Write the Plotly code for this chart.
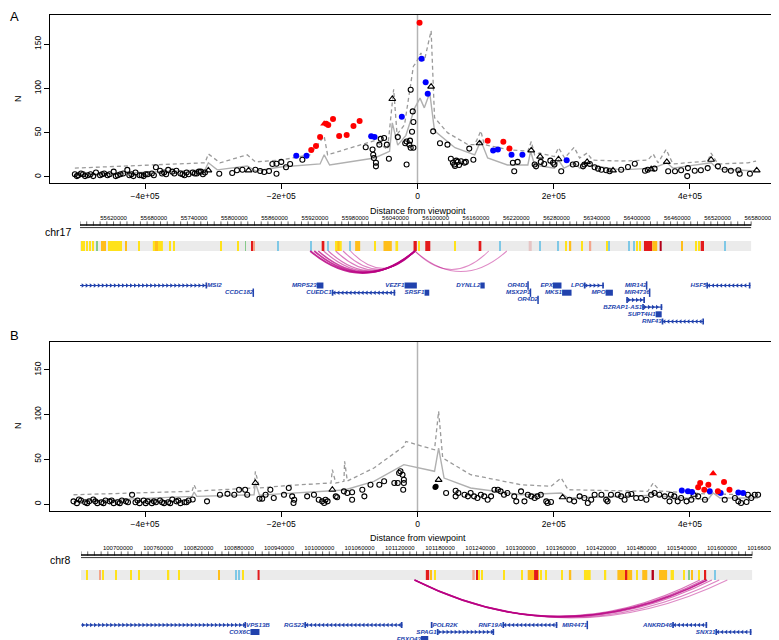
import numpy as np
import plotly.graph_objects as go

W, H = 779, 640
FONT = "Liberation Sans, Arial, sans-serif"
GENE_BLUE = "#2142ad"

# ---------------- panel A : chr17 ----------------
# distance from viewpoint in kb, N
a_circ_x = [-503, -498, -494, -488, -480, -472, -466, -460, -452, -446, -440, -432, -426, -420, -414, -408,
            -402, -396, -390, -384, -378, -372, -366, -360, -354, -348, -342, -336, -330, -324, -318, -312,
            -500, -491, -484, -476, -463, -455, -443, -436, -423, -417, -405, -399, -387, -375, -369, -357,
            -345, -339, -327, -321, -315,
            -291, -272, -265, -257, -238, -231, -225, -218, -213, -207, -200, -207, -193, -187, -169,
            -76, -66, -65, -64, -61, -61, -56, -54, -49, -45, -42, -29, -18, -16, -12, -10, -6, -11, -16,
            -10, -7, -6, -8,
            23, 33, 44, 49, 52, 54, 57, 59, 64, 69, 71, 76, 82, 55, 61,
            140, 142, 147, 172, 174, 181, 186, 195, 199, 201, 211, 228, 233,
            243, 245, 253, 260, 265, 270, 277, 282, 299, 309, 319, 334, 338, 348,
            368, 378, 387, 397, 396, 407, 416, 426, 441, 451, 460, 471, 473, 488]
a_circ_y = [3, 2, 4, 1, 3, 5, 2, 4, 3, 6, 2, 4, 8, 3, 5, 2,
            1, 3, 4, 11, 7, 5, 8, 6, 7, 4, 2, 3, 5, 4, 6, 5,
            1, 3, 2, 1, 3, 2, 1, 3, 2, 1, 2, 3, 2, 4, 3, 4,
            3, 5, 4, 6, 3,
            3.7, 4.5, 7.6, 8.2, 8.2, 6.8, 5.6, 6.8, 14.7, 15, 17, 3.7, 11, 14.7, 19.5,
            33.5, 31, 25, 21.4, 16, 12, 36.5, 43, 44, 36.5, 20.6, 45, 38, 40, 36.5, 33, 33, 41, 14,
            98.5, 74, 62, 51,
            51.5, 38, 36.5, 20.6, 16, 14, 18.4, 17, 17.7, 16, 17, 32, 19.5, 12.4, 13.5,
            16, 6.4, 17, 14, 12, 17, 14.7, 18.4, 16, 14, 6.4, 14, 14.7,
            12, 14, 14.7, 11, 9.4, 8.2, 7.6, 6.4, 8.2, 11.3, 15, 7, 8.2, 9.4,
            6.4, 6.4, 7.6, 10, 1, 7, 7.6, 10, 12, 8.2, 7, 7.6, 3.7, 3.7]
a_tri_x = [-307, -248, -37, 20, 91, 167, 180, 207, 249, 287, 343, 366, 431, 498]
a_tri_y = [7.5, 7.5, 88, 102, 38, 30, 23, 20, 17, 7.5, 8.7, 17, 19.5, 7.5]
a_red_x = [-156, -149, -143, -134, -131, -124, -115, -104, -94, -85, 3, 103, 126, 135]
a_red_y = [30.5, 35, 45, 60, 58.7, 65.5, 46.3, 47.4, 57.6, 63.2, 174, 41, 39.8, 32]
a_redtri_x = [-137]
a_redtri_y = [60]
a_blue_x = [-178, -163, -68, -63, -23, 6, 12, 15, 111, 118, 138, 154, 219]
a_blue_y = [24, 24, 46, 45, 68, 133.5, 107, 94, 30, 31, 25, 25, 19]
a_solid_x = [-503, -312, -307, -294, -250, -238, -201, -143, -137, -129, -63, -41, -37, -29, -17, -11, -4, 3.7,
             10, 18, 25, 55, 84, 93, 103, 132, 162, 166, 172, 201, 207, 215, 231, 238, 250, 299, 346, 366,
             375, 431, 441, 497]
a_solid_y = [2.3, 8, 16, 8, 12.4, 6.8, 11.3, 14.7, 25, 13.5, 21.4, 29, 61, 36, 47, 61, 78, 89,
             78, 95, 52, 33, 25, 41, 21.4, 13.5, 13.5, 29, 13.5, 10, 19, 10, 16, 10, 13.5, 8, 10, 16,
             10, 16, 9, 6.8]
a_dash_x = [-503, -312, -307, -290, -250, -238, -201, -158, -137, -132, -63, -44, -35, -30, -19, -6, -2, 5,
            10, 20, 25, 44, 74, 84, 93, 98, 132, 162, 167, 172, 179, 201, 207, 216, 230, 238, 249, 257,
            299, 338, 346, 353, 365, 375, 426, 431, 441, 485, 497]
a_dash_y = [10, 16, 26, 16, 25, 17, 19, 25, 46, 25, 41, 31, 99, 48, 59, 125, 129, 140,
            131, 165, 67, 50, 36.5, 36.5, 52, 36.5, 31, 29, 40, 25, 27, 23, 33, 21.4, 33.5, 21.4, 27, 19,
            18, 19, 26, 16, 31, 14.7, 18, 27, 14.7, 16, 18]

a_window = [55570000, 56570000]
a_viewpoint = 56069000
a_ruler_labels = [55620000, 55680000, 55740000, 55800000, 55860000, 55920000, 55980000, 56040000, 56100000,
                  56160000, 56220000, 56280000, 56340000, 56400000, 56460000, 56520000, 56580000]

Y, O, R, LB, G, S, DR, P = "#ffe21a", "#ffbe1a", "#e31a1c", "#7fc8e6", "#86c98a", "#f4a58a", "#b2001a", "#e6c4c4"
a_stripe_pos = [55573000, 55576700, 55580400, 55584900, 55589400, 55595800, 55605000, 55612500, 55615500,
                55618500, 55621500, 55624500, 55627500, 55631200, 55638700, 55658100, 55686000, 55684000,
                55703900, 55709900, 55780000, 55805800, 55816700, 55825700, 55829700, 55864500, 55914300,
                55932100, 55939100, 55955000, 55955100, 55972500, 55983700, 56009800, 56028400, 56042000,
                56069400, 56075500, 56088200, 56129200, 56166000, 56195300, 56240800, 56256100, 56282400,
                56293400, 56300900, 56317300, 56330700, 56355500, 56358000, 56387900, 56395300, 56400300,
                56403800, 56416500, 56426400, 56435200, 56466500, 56487400, 56492400, 56497300, 56531200]
a_stripe_w = [1500, 1500, 1500, 1500, 1500, 1200, 7500, 1500, 1500,
              1500, 1500, 1500, 1500, 1500, 1500, 1500, 15000, 4500,
              1500, 1500, 1500, 1500, 1000, 1500, 1500, 1500, 1500,
              4000, 1500, 10000, 3000, 1500, 7500, 1500, 12400, 4000,
              4900, 1500, 7500, 1500, 4000, 1500, 4500, 1500, 1500,
              1500, 2000, 1500, 2000, 1500, 1000, 1500, 1500, 1500,
              1500, 12400, 7400, 3000, 2000, 1500, 1500, 5000, 1500]
a_stripe_col = [Y, Y, Y, Y, Y, G, O, Y, Y,
                Y, Y, Y, Y, Y, O, Y, Y, O,
                Y, Y, Y, Y, G, R, S, LB, LB,
                R, LB, Y, O, LB, O, Y, O, Y,
                R, Y, R, Y, R, LB, P, LB, LB,
                Y, O, Y, S, Y, LB, LB, LB, Y,
                Y, R, O, DR, O, Y, Y, R, LB]
a_arc_end = [55913000, 55919000, 55925000, 55933000, 55940000, 55951000, 55962000, 55973000, 56179000, 56206000]
a_arc_score = [1.0, 0.9, 0.8, 0.5, 0.5, 0.45, 0.4, 0.4, 0.35, 0.35]

a_gene_name = ["MSI2", "CCDC182", "MRPS23", "CUEDC1", "VEZF1", "SRSF1", "DYNLL2", "OR4D1", "MSX2P1", "OR4D2",
               "EPX", "MKS1", "LPO", "MPO", "MIR142", "MIR4736", "", "BZRAP1-AS1", "SUPT4H1", "RNF43", "HSF5"]
a_gene_start = [55540000, 55828200, 55922700, 55945100, 56053600, 56083400, 56166600, 56237600, 56241200,
                56252500, 56274500, 56288300, 56320700, 56353100, 56414300, 56418800, 56383900, 56407700,
                56427700, 56436700, 56503300]
a_gene_end = [55759500, 55828200, 55932700, 56039700, 56071900, 56090400, 56173000, 56237600, 56241200,
              56252500, 56287400, 56302400, 56350600, 56364000, 56414300, 56418800, 56411800, 56437600,
              56436700, 56499800, 56569000]
a_gene_strand = ["+", "+", "-", "-", "-", "-", "+", "+", "+", "+", "+", "-", "+", "-", "+", "+", "+", "+",
                 "-", "-", "-"]
a_gene_row = [1, 2, 1, 2, 1, 2, 1, 1, 2, 3, 1, 2, 1, 2, 1, 2, 3, 4, 5, 6, 1]
a_gene_side = ["R"] + ["L"] * 20

# ---------------- panel B : chr8 ----------------
b_circ_x = [-505, -500, -494, -488, -482, -476, -470, -464, -458, -452, -446, -440, -434, -428, -419, -414,
            -408, -402, -396, -390, -384, -378, -372, -366, -360, -354, -348, -342, -336, -330,
            -497, -485, -473, -461, -449, -437, -425, -411, -399, -387, -375, -363, -351, -339,
            -309, -290, -279, -269, -262, -253, -250, -232, -228, -223, -216, -211, -196, -189, -184, -182,
            -181, -162, -152, -145, -140, -137, -135, -132, -118, -103, -96, -96, -81, -78, -69, -56, -49,
            -34, -29, -27, -22, -20, -20, -21, -25, -120, -108,
            42, 56, 56, 60, 69, 74, 78, 83, 88, 93, 98, 103, 108, 113, 118, 122, 127, 132, 142, 145,
            152, 157, 162, 167, 172, 176, 181, 189, 191, 196, 223, 230, 238, 245, 250, 255, 260, 270, 277,
            279, 284, 294, 299, 304, 309, 314, 321, 328, 336, 343, 348, 355, 363, 370, 372, 377, 382, 387,
            395, 402, 412, 422, 451, 466, 471, 475, 483, 485, 490, 495, 500]
b_circ_y = [3, 1, 4, 2, 3, 5, 1, 2, 4, 3, 1, 2, 4, 3, 10.4, 2,
            1, 4, 3, 1, 2, 4, 1, 2, 5, 3, 1, 2, 4, 5,
            5, 1, 3, 1, 4, 1, 2, 4, 1, 3, 2, 1, 4, 2,
            3, 10.4, 11.4, 10.4, 16, 16, 10.4, 5.9, 6, 10.4, 16, 6.7, 10.4, 17.9, 8.6, 1.1,
            4.8, 8.6, 10.4, 4.8, 3, 1.1, 4.8, 3, 7.5, 12.3, 13.1, 4.8, 16, 8.6, 21.6, 21.6, 25.4,
            23.5, 23.5, 34.7, 32.8, 27.2, 23.5, 16, 36.6, 8.6, 14.2,
            12.3, 14.9, 8.6, 12.3, 10.4, 8.6, 12.3, 8.6, 6.7, 10.4, 8.6, 4.8, 8.6, 16, 16, 14.2, 10.4, 12.3,
            8.6, 3, 14.2, 3, 10.4, 8.6, 6.7, 8.6, 10.4, 3, 1.1, 2.2, 4.8, 3, 8.6, 6.7, 1.1, 4.8, 10.4, 10.4,
            4.8, 3, 10.4, 10.4, 8.6, 4.8, 10.4, 11.2, 6.7, 6.7, 4.8, 10.4, 12.3, 10.4, 8.6, 3, 10.4, 8.6,
            3, 6.7, 3, 4.8, 8.6, 4.8, 4.8, 6.7, 3, 1.1, 2.2, 10.4, 6.7, 10.4, 10.4]
b_black_x = [26, 27]
b_black_y = [18.7, 19.5]
b_tri_x = [-238, -125, 31, 213, 406]
b_tri_y = [23.5, 16, 27, 7.5, 10.4]
b_red_x = [412, 415, 421, 427, 441, 450, 458]
b_red_y = [18.7, 23.5, 16, 21.6, 14.2, 24.6, 16]
b_redtri_x = [434]
b_redtri_y = [34]
b_blue_x = [388, 397, 403, 429, 445, 471, 478]
b_blue_y = [15, 14.2, 13.4, 14.2, 12.3, 13, 12.3]
b_solid_x = [-505, -331, -328, -324, -240, -238, -232, -127, -107, -64, -20, 25, 31, 39, 78, 152, 211, 221,
             338, 346, 353, 426, 434, 444, 500]
b_solid_y = [3, 8.6, 13.4, 8.6, 10.4, 23.5, 10, 14.2, 15.7, 25.4, 44, 36.6, 62.6, 29, 17.9, 10.4, 12.3, 6.7,
             9.5, 13.4, 9, 4.8, 12.3, 6.7, 6.7]
b_dash_x = [-505, -331, -328, -324, -240, -238, -232, -186, -127, -125, -120, -108, -107, -103, -64, -20, -17,
            25, 31, 37, 78, 152, 196, 211, 221, 338, 346, 356, 426, 500]
b_dash_y = [10.4, 14.2, 21.6, 14.5, 18, 36.6, 18, 21, 23.5, 38.4, 23.5, 25.4, 47.8, 25.7, 40.3, 64.5, 70,
            60.7, 103.7, 51.5, 32.8, 21.6, 19.8, 29.1, 16, 14.2, 23.5, 14.5, 11.2, 10.4]

b_window = [100645000, 101645000]
b_viewpoint = 101142000
b_ruler_labels = [100700000, 100760000, 100820000, 100880000, 100940000, 101000000, 101060000, 101120000,
                  101180000, 101240000, 101300000, 101360000, 101420000, 101480000, 101540000, 101600000,
                  101660000]
b_stripe_pos = [100653900, 100672800, 100677700, 100697100, 100719800, 100731300, 100775500, 100790400,
                100849900, 100876100, 100881100, 100886100, 100909600, 101161300, 101166300, 101172500,
                101229800, 101234700, 101238300, 101243200, 101275500, 101301700, 101319100, 101323100,
                101329900, 101337400, 101362200, 101373700, 101399400, 101426600, 101455200, 101457900,
                101473800, 101485000, 101496900, 101512300, 101526000, 101543300, 101550700, 101555700,
                101565600, 101575500, 101590300]
b_stripe_w = [1500, 1500, 1500, 2500, 1500, 1500, 2000, 1500,
              1500, 1500, 1500, 1500, 3000, 5000, 2000, 2500,
              3500, 2000, 1500, 1500, 1500, 1500, 17000, 6000,
              1500, 1500, 2000, 3500, 10000, 2000, 22000, 2000,
              1500, 7500, 3500, 12000, 5000, 1500, 1500, 2000,
              2000, 2000, 1500]
b_stripe_col = [Y, S, Y, Y, Y, Y, Y, Y,
                O, LB, LB, Y, R, R, O, Y,
                S, R, Y, Y, Y, Y, O, R,
                Y, Y, Y, O, Y, Y, O, R,
                Y, O, DR, O, Y, Y, G, O,
                Y, R, LB]
b_arc_end = [101567000, 101573000, 101578000, 101585000, 101596000, 101608000]
b_arc_score = [0.5, 0.6, 1.0, 0.5, 0.4, 0.35]

b_gene_name = ["VPS13B", "COX6C", "RGS22", "FBXO43", "POLR2K", "SPAG1", "RNF19A", "MIR4471", "ANKRD46", "SNX31"]
b_gene_start = [100620000, 100897500, 100977900, 101151400, 101166200, 101175200, 101273000, 101399400,
                101525900, 101590300]
b_gene_end = [100891000, 100910900, 101124100, 101162400, 101168800, 101260600, 101354800, 101399400,
              101578000, 101644000]
b_gene_strand = ["+", "-", "-", "-", "+", "+", "-", "+", "-", "-"]
b_gene_row = [1, 2, 1, 3, 1, 2, 1, 1, 1, 2]
b_gene_side = ["R", "L", "L", "L", "R", "L", "L", "L", "L", "L"]

# ---------------------------------------------------------------
BP_PER_PX = 1490


def px(x):
    return x / W


def py(y):
    return 1 - y / H


fig = go.Figure()
shapes = []


def scatter_panel(xa, ya, solid, dash, circ, tri, red, redtri, blue, black=None):
    kb = lambda v: [i * 1000 for i in v]
    ref = dict(xaxis=xa, yaxis=ya, hoverinfo="skip", showlegend=False)
    fig.add_trace(go.Scatter(x=kb(dash[0]), y=dash[1], mode="lines",
                             line=dict(color="#9a9a9a", width=1.3, dash="4px,3px"), **ref))
    fig.add_trace(go.Scatter(x=kb(solid[0]), y=solid[1], mode="lines",
                             line=dict(color="#b0b0b0", width=1.4), **ref))
    fig.add_trace(go.Scatter(x=kb(circ[0]), y=circ[1], mode="markers",
                             marker=dict(symbol="circle-open", size=5, color="black", line=dict(width=1.1)), **ref))
    fig.add_trace(go.Scatter(x=kb(tri[0]), y=tri[1], mode="markers",
                             marker=dict(symbol="triangle-up-open", size=6, color="black", line=dict(width=1.1)), **ref))
    if black:
        fig.add_trace(go.Scatter(x=kb(black[0]), y=black[1], mode="markers",
                                 marker=dict(symbol="circle", size=5.5, color="black"), **ref))
    fig.add_trace(go.Scatter(x=kb(blue[0]), y=blue[1], mode="markers",
                             marker=dict(symbol="circle", size=6, color="#0000ff"), **ref))
    fig.add_trace(go.Scatter(x=kb(red[0]), y=red[1], mode="markers",
                             marker=dict(symbol="circle", size=6, color="#ff0000"), **ref))
    fig.add_trace(go.Scatter(x=kb(redtri[0]), y=redtri[1], mode="markers",
                             marker=dict(symbol="triangle-up", size=7, color="#ff0000"), **ref))
    shapes.append(dict(type="line", xref=xa, yref=ya + " domain", x0=0, x1=0, y0=0, y1=1,
                       line=dict(color="#b4b4b4", width=1.5), layer="below"))


def track(xa, window, vp, ruler_y, labels, bar_top, stripes, arcs, genes, row0, gap):
    ref = dict(xaxis=xa, yaxis="y3", hoverinfo="skip", showlegend=False)
    # ruler
    fig.add_trace(go.Scatter(x=window, y=[ruler_y, ruler_y], mode="lines", line=dict(color="black", width=1.6), **ref))
    fig.add_trace(go.Scatter(x=window, y=[ruler_y + 2.6, ruler_y + 2.6], mode="lines",
                             line=dict(color="black", width=0.8), **ref))
    tk = np.arange(window[0], window[1] + 1, 10000)
    fig.add_trace(go.Scatter(x=tk, y=[ruler_y - 1.5] * len(tk), mode="markers",
                             marker=dict(symbol="line-ns", size=3, line=dict(width=0.6, color="black")), **ref))
    fig.add_trace(go.Scatter(x=labels, y=[ruler_y - 6.5] * len(labels), text=[str(v) for v in labels],
                             mode="text", textposition="middle center",
                             textfont=dict(family=FONT, size=6, color="black"), cliponaxis=False, **ref))
    # heat stripes
    fig.add_trace(go.Bar(x=[(window[0] + window[1]) / 2], width=[window[1] - window[0]], base=bar_top, y=[10],
                         marker=dict(color="#ebebeb", line=dict(width=0)), **ref))
    pos, wid, col = stripes
    fig.add_trace(go.Bar(x=pos, width=wid, base=bar_top, y=[10] * len(pos),
                         marker=dict(color=col, line=dict(width=0)), **ref))
    # interaction arcs
    y0 = bar_top + 10
    for end, sc in zip(*arcs):
        d = 0.0556 * np.sqrt(abs(end - vp))
        shapes.append(dict(type="path", xref=xa, yref="y3",
                           path=f"M {vp},{y0} Q {(vp + end) / 2},{y0 + 2 * d} {end},{y0}",
                           line=dict(color=f"rgba(185,0,130,{0.25 + 0.6 * sc:.2f})", width=0.6 + 1.2 * sc)))
    # genes
    names, starts, ends, strands, rows, sides = genes
    body_x, body_y, box_x, box_y, tick_x, tick_y = [], [], [], [], [], []
    chev = {"+": ([], []), "-": ([], [])}
    lab = {"L": ([], [], []), "R": ([], [], [])}
    for n, s, e, st, r, sd in zip(names, starts, ends, strands, rows, sides):
        y = row0 + (r - 1) * gap
        if e - s < 1000:
            tick_x.append(s)
            tick_y.append(y)
        elif e - s < 20000:
            box_x += [s, e, None]
            box_y += [y, y, None]
        else:
            body_x += [s, e, None]
            body_y += [y, y, None]
            box_x += [s, s + 2500, None, e - 2500, e, None]
            box_y += [y, y, None, y, y, None]
            for c in np.arange(s + 4000, e - 2000, 6000):
                chev[st][0].append(c)
                chev[st][1].append(y)
        if n:
            lab[sd][0].append(s if sd == "L" else e)
            lab[sd][1].append(y)
            lab[sd][2].append(n)
    fig.add_trace(go.Scatter(x=body_x, y=body_y, mode="lines", line=dict(color=GENE_BLUE, width=1.2), **ref))
    fig.add_trace(go.Scatter(x=box_x, y=box_y, mode="lines", line=dict(color=GENE_BLUE, width=6), **ref))
    fig.add_trace(go.Scatter(x=tick_x, y=tick_y, mode="markers",
                             marker=dict(symbol="line-ns", size=6, line=dict(width=1.5, color=GENE_BLUE)), **ref))
    for st, sym in (("+", "triangle-right"), ("-", "triangle-left")):
        fig.add_trace(go.Scatter(x=chev[st][0], y=chev[st][1], mode="markers",
                                 marker=dict(symbol=sym, size=4, color=GENE_BLUE), **ref))
    for sd, tp in (("L", "middle left"), ("R", "middle right")):
        fig.add_trace(go.Scatter(x=lab[sd][0], y=lab[sd][1], text=lab[sd][2], mode="text", textposition=tp,
                                 textfont=dict(family=FONT, size=6.2, color=GENE_BLUE, style="italic", weight="bold"),
                                 **ref))


scatter_panel("x", "y", (a_solid_x, a_solid_y), (a_dash_x, a_dash_y), (a_circ_x, a_circ_y),
              (a_tri_x, a_tri_y), (a_red_x, a_red_y), (a_redtri_x, a_redtri_y), (a_blue_x, a_blue_y))
scatter_panel("x2", "y2", (b_solid_x, b_solid_y), (b_dash_x, b_dash_y), (b_circ_x, b_circ_y),
              (b_tri_x, b_tri_y), (b_red_x, b_red_y), (b_redtri_x, b_redtri_y), (b_blue_x, b_blue_y),
              black=(b_black_x, b_black_y))
track("x3", a_window, a_viewpoint, 217, a_ruler_labels, 233, (a_stripe_pos, a_stripe_w, a_stripe_col),
      (a_arc_end, a_arc_score),
      (a_gene_name, a_gene_start, a_gene_end, a_gene_strand, a_gene_row, a_gene_side), 277.5, 7.2)
track("x4", b_window, b_viewpoint, 547, b_ruler_labels, 562, (b_stripe_pos, b_stripe_w, b_stripe_col),
      (b_arc_end, b_arc_score),
      (b_gene_name, b_gene_start, b_gene_end, b_gene_strand, b_gene_row, b_gene_side), 617, 7)

dist_ticks = [-400000, -200000, 0, 200000, 400000]
dist_text = ["\u22124e+05", "\u22122e+05", "0", "2e+05", "4e+05"]
ax = dict(showgrid=False, zeroline=False, showline=True, linecolor="black", linewidth=1, mirror=True,
          ticks="outside", ticklen=5, tickwidth=1, tickcolor="black",
          tickfont=dict(family=FONT, size=8.5, color="black"))
ruler = dict(showgrid=False, zeroline=False, showline=False, ticks="", showticklabels=False, anchor="free",
             position=0)

fig.update_layout(
    width=W, height=H, margin=dict(l=0, r=0, t=0, b=0),
    paper_bgcolor="white", plot_bgcolor="rgba(0,0,0,0)", showlegend=False, barmode="overlay",
    xaxis=dict(domain=[px(42), px(777)], range=[-539500, 539500], anchor="y",
               tickvals=dist_ticks, ticktext=dist_text, **ax),
    yaxis=dict(domain=[py(175), py(7)], range=[-6.8, 182.8], anchor="x",
               tickvals=[0, 50, 100, 150], tickangle=-90, **ax),
    xaxis2=dict(domain=[px(42), px(777)], range=[-539500, 539500], anchor="y2",
                tickvals=dist_ticks, ticktext=dist_text, **ax),
    yaxis2=dict(domain=[py(503), py(334)], range=[-7.8, 181.2], anchor="x2",
                tickvals=[0, 50, 100, 150], tickangle=-90, **ax),
    xaxis3=dict(domain=[px(72), px(760)], range=[a_window[0], a_window[0] + 688 * BP_PER_PX], **ruler),
    xaxis4=dict(domain=[px(73), px(761)], range=[b_window[0], b_window[0] + 688 * BP_PER_PX], **ruler),
    yaxis3=dict(domain=[0, 1], range=[H, 0], visible=False, anchor="x3"),
    shapes=shapes,
)

ann = [
    ("A", 6, 9, 13, 0), ("B", 6, 327, 13, 0),
    ("N", 10, 91, 9, -90), ("N", 10, 418, 9, -90),
    ("Distance from viewpoint", 410, 203, 9, 0), ("Distance from viewpoint", 410, 530, 9, 0),
    ("chr17", 50, 224, 10.5, 0), ("chr8", 52, 552, 10.5, 0),
]
for t, x, y, s, ang in ann:
    fig.add_annotation(text=t, x=px(x), y=py(y), xref="paper", yref="paper", showarrow=False,
                       textangle=ang, font=dict(family=FONT, size=s, color="black"),
                       xanchor="center", yanchor="middle")

fig.write_html("out.html")
